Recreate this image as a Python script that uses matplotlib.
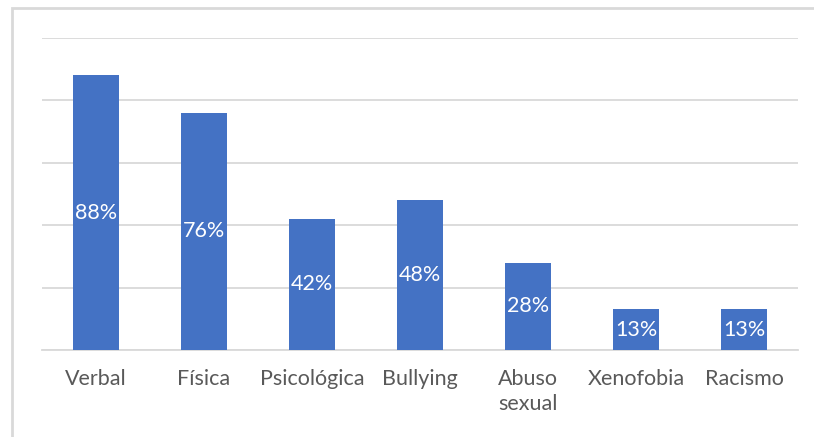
import matplotlib.pyplot as plt
from matplotlib.patches import Rectangle

categories = ["Verbal", "Física", "Psicológica", "Bullying", "Abuso\nsexual", "Xenofobia", "Racismo"]
values = [88, 76, 42, 48, 28, 13, 13]
labels = ["88%", "76%", "42%", "48%", "28%", "13%", "13%"]

plt.rcParams['font.family'] = ['Lato', 'DejaVu Sans']

fig = plt.figure(figsize=(8.14, 4.37), dpi=100)
fig.patches.append(Rectangle((12/814, -0.1), 1.2, 1 - 8/437 + 0.1, transform=fig.transFigure,
                             fill=False, edgecolor='#d9d9d9', linewidth=2))
ax = fig.add_axes([42/814, 1 - 350/437, 756/814, 312/437])
x = range(len(categories))
bars = ax.bar(x, values, width=0.42, color='#4472C4', zorder=3)
for b, v, l in zip(bars, values, labels):
    ax.text(b.get_x() + b.get_width()/2, v/2, l, ha='center', va='center',
            color='white', fontsize=15.5, zorder=4)
ax.set_xlim(-0.5, len(categories) - 0.5)
ax.set_ylim(0, 100)
ax.set_yticks([0, 20, 40, 60, 80, 100])
ax.set_yticklabels([])
ax.tick_params(axis='y', length=0)
ax.grid(axis='y', color='#d9d9d9', linewidth=1.3, zorder=0)
ax.set_xticks(list(x))
ax.set_xticklabels(categories, fontsize=15.5, color='#595959', multialignment='left',
                   linespacing=1.3)
ax.tick_params(axis='x', length=0, pad=14)
for s in ['top', 'right', 'left']:
    ax.spines[s].set_visible(False)
ax.spines['bottom'].set_color('#d9d9d9')
ax.spines['bottom'].set_linewidth(1.3)
fig.savefig('out.png', dpi=100)
